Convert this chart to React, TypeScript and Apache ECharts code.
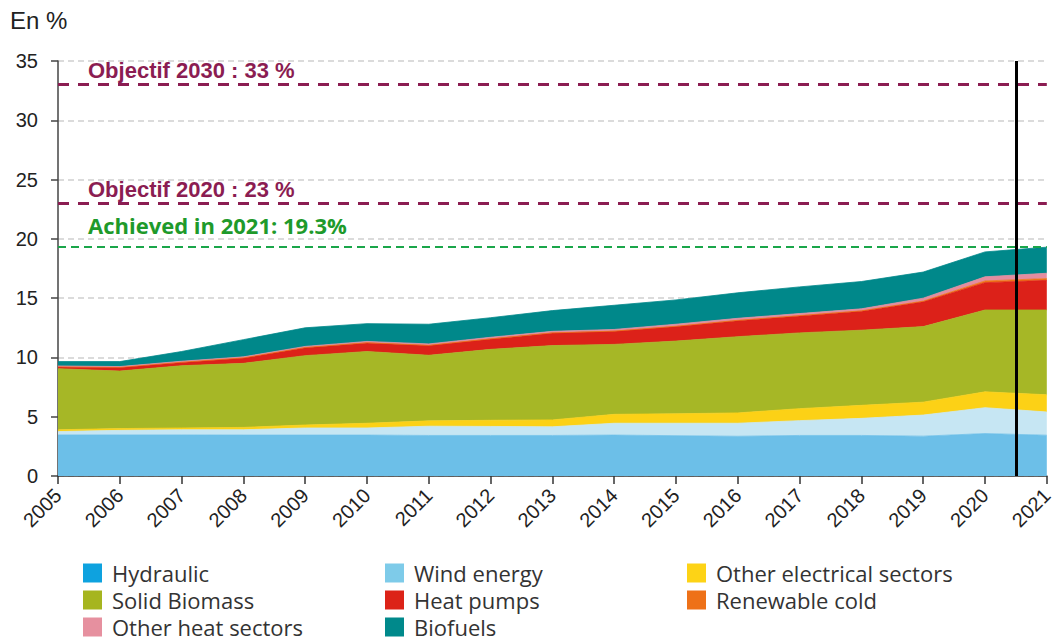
import { useEffect, useRef } from "react";
import * as echarts from "echarts";

const years = ["2005", "2006", "2007", "2008", "2009", "2010", "2011", "2012", "2013", "2014", "2015", "2016", "2017", "2018", "2019", "2020", "2021"];

const hydraulic = [3.46, 3.46, 3.46, 3.45, 3.45, 3.45, 3.42, 3.42, 3.42, 3.45, 3.4, 3.35, 3.42, 3.42, 3.36, 3.58, 3.44];
const windEnergy = [0.29, 0.39, 0.44, 0.45, 0.6, 0.6, 0.78, 0.76, 0.73, 1.0, 1.05, 1.1, 1.25, 1.44, 1.78, 2.18, 1.96];
const otherElectrical = [0.15, 0.15, 0.15, 0.2, 0.25, 0.4, 0.45, 0.52, 0.58, 0.75, 0.8, 0.87, 1.01, 1.1, 1.09, 1.34, 1.45];
const solidBiomass = [5.15, 4.85, 5.25, 5.4, 5.85, 6.05, 5.53, 5.98, 6.27, 5.9, 6.13, 6.43, 6.39, 6.34, 6.37, 6.9, 7.15];
const heatPumps = [0.15, 0.3, 0.28, 0.45, 0.67, 0.72, 0.82, 0.87, 1.05, 1.1, 1.22, 1.35, 1.43, 1.6, 2.1, 2.3, 2.5];
const renewableCold = [0.02, 0.02, 0.02, 0.02, 0.02, 0.02, 0.02, 0.02, 0.02, 0.02, 0.03, 0.03, 0.03, 0.03, 0.05, 0.15, 0.15];
const otherHeat = [0.06, 0.06, 0.08, 0.08, 0.09, 0.11, 0.12, 0.13, 0.13, 0.14, 0.17, 0.17, 0.17, 0.17, 0.25, 0.35, 0.45];
const biofuels = [0.37, 0.42, 0.82, 1.45, 1.57, 1.5, 1.66, 1.65, 1.75, 2.04, 2.05, 2.15, 2.25, 2.3, 2.2, 2.1, 2.2];

const seriesNames = [
  "Hydraulic",
  "Wind energy",
  "Other electrical sectors",
  "Solid Biomass",
  "Heat pumps",
  "Renewable cold",
  "Other heat sectors",
  "Biofuels",
];
const seriesValues = [hydraulic, windEnergy, otherElectrical, solidBiomass, heatPumps, renewableCold, otherHeat, biofuels];

const areaColors = ["#6cbfe8", "#c6e6f3", "#fcd116", "#a6b726", "#dc2119", "#ef7318", "#e48da0", "#00888a"];
const legendColors = ["#0ea2df", "#7ecbe9", "#fdd316", "#a6b51f", "#dc2318", "#ee7118", "#e6909f", "#00898b"];

// legend order: column by column (3 rows per column)
const legendOrder = [
  "Hydraulic", "Solid Biomass", "Other heat sectors",
  "Wind energy", "Heat pumps", "Biofuels",
  "Other electrical sectors", "Renewable cold",
];

const yearMin = 2005;
const yearMax = 2021;
const target2030 = 33;
const target2020 = 23;
const achieved2021 = 19.3;
const cutoffYear = 2020.5;

const label2030 = "Objectif 2030 : 33 %";
const label2020 = "Objectif 2020 : 23 %";
const labelAchieved = "Achieved in 2021: 19.3%";

export default function App() {
  const ref = useRef<HTMLDivElement>(null);

  useEffect(() => {
    if (!ref.current) return;
    const chart = echarts.init(ref.current, undefined, { renderer: "svg" });

    const maroon = "#8b1d52";
    const green = "#1aa64a";

    const objLabel = (text: string) => ({
      show: true,
      formatter: text,
      position: "insideStartTop",
      distance: [30, 3],
      color: maroon,
      fontSize: 22,
      fontWeight: "bold",
      fontFamily: "Liberation Sans",
    });

    const series: any[] = seriesNames.map((name, i) => ({
      name,
      type: "line",
      stack: "total",
      xAxisIndex: 0,
      data: seriesValues[i],
      symbol: "none",
      showSymbol: false,
      lineStyle: { width: 0.8, color: areaColors[i] },
      itemStyle: { color: legendColors[i] },
      areaStyle: { color: areaColors[i], opacity: 1 },
      emphasis: { disabled: true },
      silent: true,
      z: 2,
    }));

    series.push({
      name: "refs",
      type: "line",
      xAxisIndex: 1,
      data: [[yearMin, 0], [yearMax, 0]],
      symbol: "none",
      lineStyle: { opacity: 0, width: 0 },
      silent: true,
      z: 5,
      markLine: {
        silent: true,
        symbol: ["none", "none"],
        z: 5,
        data: [
          {
            yAxis: target2030,
            lineStyle: { color: maroon, width: 3, type: [11, 9] },
            label: objLabel(label2030),
          },
          {
            yAxis: target2020,
            lineStyle: { color: maroon, width: 3, type: [11, 9] },
            label: objLabel(label2020),
          },
          {
            yAxis: achieved2021,
            lineStyle: { color: green, width: 2, type: [8, 5] },
            label: {
              show: true,
              formatter: labelAchieved,
              position: "insideStartTop",
              distance: [30, 11],
              color: "#1e9a2b",
              fontSize: 22,
              fontWeight: "bold",
              fontFamily: "Open Sans",
            },
          },
          {
            xAxis: cutoffYear,
            lineStyle: { color: "#000", width: 3, type: "solid" },
            label: { show: false },
          },
        ],
      },
    });

    chart.setOption({
      animation: false,
      backgroundColor: "#fff",
      title: {
        text: "En %",
        left: 10,
        top: 8,
        padding: 0,
        textStyle: { fontSize: 24, fontWeight: "normal", color: "#222", fontFamily: "Liberation Sans" },
      },
      grid: { left: 58, right: 7, top: 61, bottom: 163, containLabel: false },
      legend: {
        orient: "vertical",
        left: 83,
        top: 562,
        height: 80,
        padding: 0,
        icon: "rect",
        itemWidth: 19,
        itemHeight: 19,
        itemGap: 5,
        selectedMode: false,
        data: legendOrder,
        textStyle: {
          fontSize: 22,
          color: "#333",
          fontFamily: "Open Sans",
          lineHeight: 22,
          width: 268,
          padding: [0, 0, 0, 5],
        },
      },
      xAxis: [
        {
          type: "category",
          data: years,
          boundaryGap: false,
          axisLine: { show: true, lineStyle: { color: "#333", width: 1.5 } },
          axisTick: { show: true, length: 8, alignWithLabel: true, lineStyle: { color: "#333", width: 1.5 } },
          splitLine: { show: false },
          axisLabel: {
            rotate: 45,
            margin: 16,
            fontSize: 20,
            color: "#222",
            fontFamily: "Liberation Sans",
            interval: 0,
          },
        },
        {
          type: "value",
          min: yearMin,
          max: yearMax,
          show: false,
          position: "bottom",
        },
      ],
      yAxis: {
        type: "value",
        min: 0,
        max: 35,
        interval: 5,
        axisLine: { show: true, lineStyle: { color: "#444", width: 1.5 } },
        axisTick: { show: true, length: 7, lineStyle: { color: "#444", width: 1.5 } },
        splitLine: { show: true, lineStyle: { color: "#cfcfcf", width: 1.5, type: [6, 4] } },
        axisLabel: {
          margin: 20,
          fontSize: 20,
          color: "#222",
          fontFamily: "Liberation Sans",
        },
      },
      series,
    });

    return () => chart.dispose();
  }, []);

  return (
    <div
      ref={ref}
      style={{ position: "absolute", left: 0, top: 0, width: 1056, height: 639 }}
    />
  );
}
